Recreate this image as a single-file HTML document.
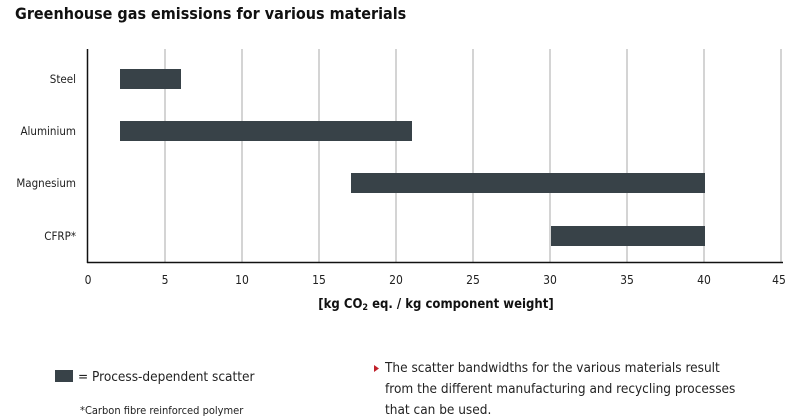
<!DOCTYPE html>
<html><head><meta charset="utf-8"><style>
body{margin:0;background:#fff;width:800px;height:420px;overflow:hidden;font-family:"DejaVu Sans Condensed","Liberation Sans",sans-serif;}
</style></head><body>
<svg width="800" height="420" xmlns="http://www.w3.org/2000/svg" style="position:absolute;left:0;top:0">
<text x="15" y="19" font-family="DejaVu Sans Condensed" font-weight="bold" font-size="16" fill="#111">Greenhouse gas emissions for various materials</text>
<g stroke="#b8b8b8" stroke-width="1.2">
<line x1="165" y1="49" x2="165" y2="262"/><line x1="242" y1="49" x2="242" y2="262"/>
<line x1="319" y1="49" x2="319" y2="262"/><line x1="396" y1="49" x2="396" y2="262"/>
<line x1="473" y1="49" x2="473" y2="262"/><line x1="550" y1="49" x2="550" y2="262"/>
<line x1="627" y1="49" x2="627" y2="262"/><line x1="704" y1="49" x2="704" y2="262"/>
<line x1="781" y1="49" x2="781" y2="262"/>
</g>
<g fill="#384248">
<rect x="120" y="69" width="61" height="20"/>
<rect x="120" y="121" width="292" height="20"/>
<rect x="351" y="173" width="354" height="20"/>
<rect x="551" y="226" width="154" height="20"/>
</g>
<line x1="87.5" y1="49" x2="87.5" y2="263" stroke="#111" stroke-width="1.5"/>
<line x1="87" y1="262.5" x2="783" y2="262.5" stroke="#111" stroke-width="1.5"/>
<g font-family="DejaVu Sans Condensed" font-size="11.5" fill="#222" text-anchor="end">
<text x="76" y="83">Steel</text><text x="76" y="135">Aluminium</text>
<text x="76" y="187">Magnesium</text><text x="76" y="240">CFRP*</text>
</g>
<g font-family="DejaVu Sans Condensed" font-size="12" fill="#222" text-anchor="middle">
<text x="88" y="284">0</text><text x="165" y="284">5</text><text x="242" y="284">10</text>
<text x="319" y="284">15</text><text x="396" y="284">20</text><text x="473" y="284">25</text>
<text x="550" y="284">30</text><text x="627" y="284">35</text><text x="704" y="284">40</text>
<text x="779" y="284">45</text>
</g>
<text x="436" y="308" text-anchor="middle" font-family="DejaVu Sans Condensed" font-weight="bold" font-size="13" fill="#111">[kg CO<tspan font-size="9" dy="2">2</tspan><tspan dy="-2"> eq. / kg component weight]</tspan></text>
<rect x="55" y="370" width="18" height="12" fill="#384248"/>
<text x="78" y="381" font-family="DejaVu Sans Condensed" font-size="13.5" fill="#222">= Process-dependent scatter</text>
<text x="80" y="414" font-family="DejaVu Sans Condensed" font-size="11" fill="#222">*Carbon fibre reinforced polymer</text>
<polygon points="374,365 379,368.5 374,372" fill="#c0202a"/>
<g font-family="DejaVu Sans Condensed" font-size="13.5" fill="#222">
<text x="385" y="372">The scatter bandwidths for the various materials result</text>
<text x="385" y="393">from the different manufacturing and recycling processes</text>
<text x="385" y="414">that can be used.</text>
</g>
</svg>
</body></html>
